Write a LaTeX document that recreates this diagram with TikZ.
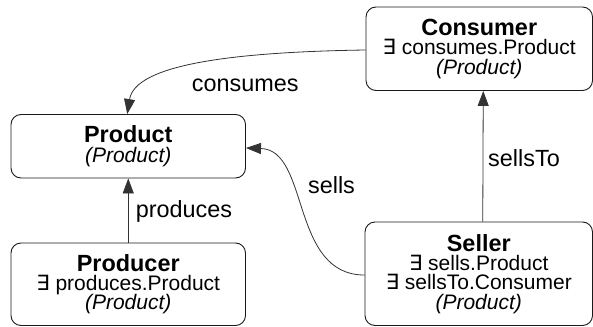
\documentclass[tikz,border=0pt]{standalone}
\usepackage{fontspec}
\setmainfont{Liberation Sans}
\newfontfamily\symfont{DejaVu Sans}
\usetikzlibrary{arrows.meta,calc}
\newcommand{\exsym}{{\symfont ∃}}
\newcommand{\ttl}[1]{{\fontsize{23.4}{19.2}\selectfont\bfseries #1}}
\newcommand{\prn}[1]{{\itshape #1}}
% centred lines at a fixed baseline distance
\newcommand{\stack}[1]{\vbox{\baselineskip=19.3pt\lineskiplimit=-30pt\lineskip=0pt
  \halign{\hfil##\hfil\cr#1\crcr}}}
\begin{document}
\begin{tikzpicture}[x=1pt,y=-1pt,
  concept/.style={draw=black!90, line width=0.9pt, rounded corners=10pt,
    inner sep=0pt, font=\fontsize{21}{19.3}\selectfont},
  rel/.style={draw=black!80, line width=0.8pt,
    -{Triangle[length=15pt,width=11pt]}},
  rellabel/.style={anchor=base, inner sep=0pt,
    font=\fontsize{23.4}{24}\selectfont}]
  \useasboundingbox (0,0) rectangle (593,326);
  \clip (0,0) rectangle (593,326);

  % concept boxes
  \node[concept, minimum width=234.5pt, minimum height=63.5pt]
    (product) at (128.25,146.25)
    {\stack{\ttl{Product}\cr \prn{(Product)}}};
  \node[concept, minimum width=234.5pt, minimum height=82.5pt]
    (producer) at (128.25,284.25)
    {\stack{\ttl{Producer}\cr \exsym{} produces.Product\cr \prn{(Product)}}};
  \node[concept, minimum width=226.5pt, minimum height=83.5pt]
    (consumer) at (479.25,48.75)
    {\stack{\ttl{Consumer}\cr \exsym{} consumes.Product\cr \prn{(Product)}}};
  \node[concept, minimum width=227.5pt, minimum height=103.5pt]
    (seller) at (478.75,273.75)
    {\stack{\ttl{Seller}\cr \exsym{} sells.Product\cr \exsym{} sellsTo.Consumer\cr \prn{(Product)}}};

  % relations
  \draw[rel] (producer.north) -- (product.south);
  \draw[rel] ([xshift=4pt]seller.north) -- ([xshift=4pt]consumer.south);
  \draw[rel] ([yshift=-1.25pt]consumer.west)
    .. controls (230,52) and (135,65) .. ([xshift=-1pt]product.north);
  \draw[rel] ([yshift=-1.25pt]seller.west)
    .. controls (290,275) and (310,150) .. ([yshift=-1.75pt]product.east);

  % relation labels
  \node[rellabel] (lconsumes) at (245.3,91.5) {consumes};
  \node[rellabel] (lsells) at (331.5,193.3) {sells};
  \node[rellabel] (lproduces) at (184,217.3) {produces};
  \node[rellabel] (lsellsto) at (524,166.7) {sellsTo};
\end{tikzpicture}
\end{document}
